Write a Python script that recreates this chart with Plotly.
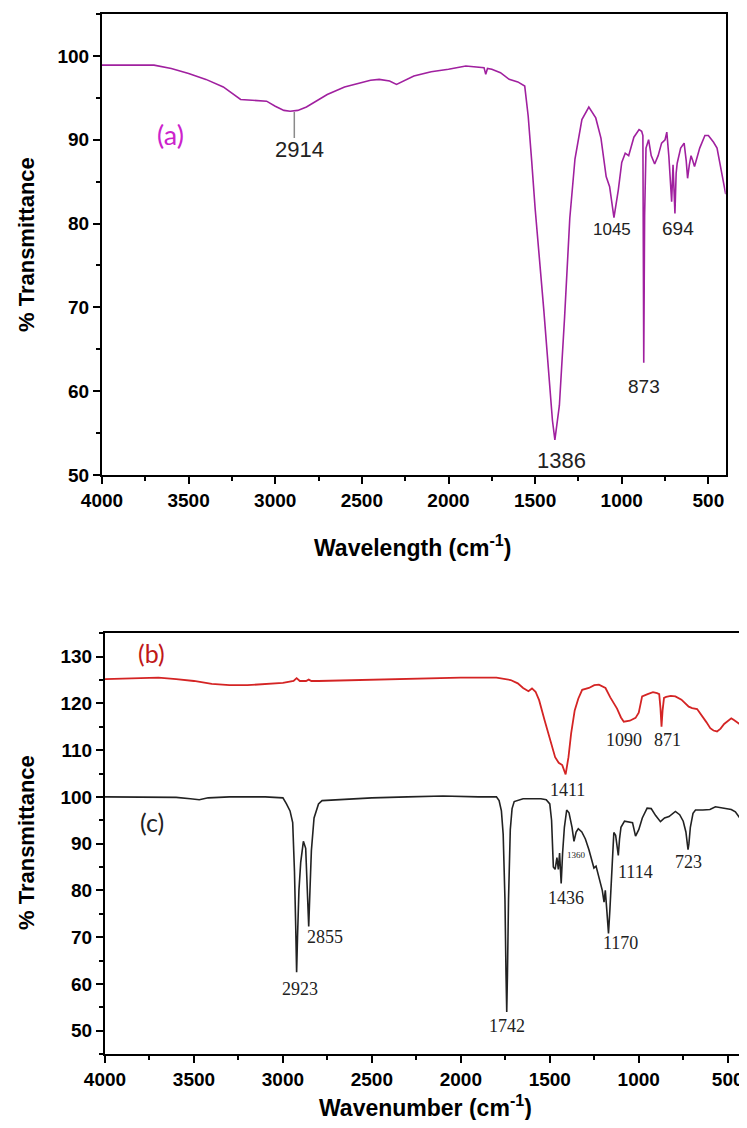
import plotly.graph_objects as go

# ---------------- data: spectrum (a) ----------------
wn_a = [4000, 3850, 3700, 3600, 3500, 3400, 3300, 3200, 3100, 3050, 3000, 2950, 2914, 2870, 2820,
        2780, 2700, 2600, 2500, 2450, 2400, 2340, 2300, 2260, 2200, 2100, 2000, 1900, 1820, 1795,
        1785, 1775, 1750, 1700, 1650, 1600, 1560, 1540, 1520, 1500, 1450, 1420, 1400, 1386, 1370,
        1360, 1330, 1300, 1270, 1230, 1190, 1150, 1120, 1100, 1090, 1070, 1045, 1020, 1000, 980,
        960, 930, 900, 885, 878, 873, 868, 860, 845, 830, 810, 790, 770, 750, 740, 728, 712, 704,
        693, 686, 680, 660, 640, 628, 620, 610, 600, 590, 580, 550, 520, 500, 470, 450, 430, 408, 400]
tr_a = [98.9, 98.9, 98.9, 98.5, 97.9, 97.2, 96.3, 94.8, 94.7, 94.6, 94.0, 93.5, 93.4, 93.5, 93.9,
        94.4, 95.4, 96.3, 96.8, 97.1, 97.2, 97.0, 96.6, 97.0, 97.6, 98.1, 98.4, 98.8, 98.7, 98.6,
        97.8, 98.5, 98.4, 98.0, 97.2, 96.9, 96.4, 92.8, 87.5, 81.8, 69.7, 61.5, 56.5, 54.2, 56.5,
        58.3, 68.8, 80.6, 87.7, 92.4, 93.9, 92.6, 90.2, 86.8, 85.6, 84.4, 80.7, 84.0, 87.3, 88.4,
        88.1, 90.3, 91.2, 91.0, 90.5, 63.4, 81.0, 89.0, 90.0, 88.1, 87.1, 88.1, 89.6, 90.0, 90.9,
        88.0, 82.6, 87.0, 81.2, 86.0, 87.2, 89.0, 89.6, 87.5, 85.4, 87.0, 88.1, 87.5, 86.8, 89.0,
        90.5, 90.5, 89.7, 89.0, 86.8, 84.0, 83.5]

# ---------------- data: spectrum (b) ----------------
wn_b = [4000, 3800, 3700, 3600, 3500, 3400, 3300, 3200, 3100, 3000, 2940, 2923, 2905, 2870, 2855,
        2840, 2800, 2600, 2400, 2200, 2000, 1800, 1720, 1680, 1650, 1620, 1600, 1580, 1560, 1530,
        1500, 1470, 1450, 1430, 1411, 1395, 1380, 1360, 1340, 1318, 1280, 1250, 1224, 1200, 1187,
        1160, 1140, 1122, 1100, 1084, 1050, 1018, 1000, 981, 950, 920, 897, 885, 878, 872, 866,
        858, 846, 820, 794, 760, 719, 700, 672, 640, 620, 598, 580, 560, 540, 520, 500, 480, 467,
        450, 430, 411, 400]
tr_b = [125.2, 125.4, 125.5, 125.2, 124.8, 124.2, 123.9, 123.9, 124.1, 124.4, 124.8, 125.4, 124.8,
        124.8, 125.1, 124.8, 124.8, 125.0, 125.2, 125.4, 125.5, 125.5, 125.0, 124.3, 123.3, 122.6,
        123.2, 122.5, 120.7, 116.5, 112.2, 108.5, 107.3, 106.8, 104.8, 108.5, 113.6, 118.5, 121.0,
        122.9, 123.3, 123.9, 124.0, 123.6, 123.3, 121.3, 120.0, 118.9, 117.0, 116.1, 116.3, 116.9,
        118.0, 121.5, 122.0, 122.4, 122.2, 122.0, 119.0, 115.0, 118.5, 121.2, 121.4, 121.6, 121.5,
        120.8, 119.3, 119.0, 118.8, 117.2, 116.0, 114.7, 114.2, 114.0, 114.6, 115.6, 116.3, 116.8,
        116.5, 116.0, 115.5, 114.7, 114.3]

# ---------------- data: spectrum (c) ----------------
wn_c = [4000, 3800, 3600, 3520, 3470, 3420, 3300, 3100, 3000, 2980, 2960, 2945, 2935, 2928, 2923,
        2918, 2910, 2900, 2885, 2872, 2862, 2855, 2848, 2840, 2825, 2800, 2780, 2700, 2500, 2300,
        2100, 1900, 1800, 1785, 1772, 1762, 1752, 1746, 1742, 1738, 1732, 1722, 1712, 1700, 1650,
        1550, 1520, 1500, 1490, 1480, 1470, 1460, 1452, 1445, 1436, 1428, 1418, 1405, 1392, 1375,
        1364, 1352, 1340, 1320, 1300, 1280, 1262, 1252, 1240, 1225, 1212, 1205, 1195, 1188, 1180,
        1170, 1162, 1155, 1148, 1140, 1130, 1120, 1115, 1108, 1100, 1080, 1055, 1035, 1018, 1000,
        980, 953, 930, 905, 878, 855, 830, 794, 770, 750, 735, 728, 723, 718, 710, 695, 681, 640,
        600, 569, 520, 480, 457, 440, 429, 420, 410, 400]
tr_c = [100.0, 100.0, 99.9, 99.6, 99.4, 99.8, 100.0, 100.0, 99.8, 98.5, 97.0, 94.5, 84.0, 72.0,
        62.5, 70.0, 80.0, 86.0, 90.5, 89.0, 80.0, 72.3, 80.0, 88.5, 95.5, 98.5, 99.2, 99.4, 99.8,
        100.0, 100.2, 100.0, 100.0, 99.2, 97.0, 92.0, 78.0, 62.0, 54.0, 62.0, 78.0, 93.0, 97.5,
        99.0, 99.6, 99.6, 99.4, 98.5, 95.0, 85.0, 84.5, 87.0, 84.5, 88.0, 81.5, 88.0, 93.5, 97.2,
        96.6, 93.5, 90.5, 92.5, 93.2, 92.5, 91.0, 88.7, 86.5, 84.8, 85.2, 83.0, 81.0, 80.0, 77.5,
        80.0, 76.0, 70.8, 76.0, 82.0, 88.0, 92.4, 91.8, 89.0, 87.5, 91.0, 93.5, 94.8, 94.7, 94.5,
        91.6, 93.0, 95.5, 97.6, 97.5, 96.0, 94.7, 95.5, 95.8, 96.9, 96.2, 94.8, 92.5, 90.0, 88.7,
        90.0, 93.5, 96.5, 97.2, 97.2, 97.3, 97.9, 97.6, 97.3, 96.8, 96.0, 95.3, 96.2, 96.4, 96.6]

# ---------------- peak labels ----------------
labels_a = ["2914", "1386", "1045", "873", "694"]
label_a_wn = [2858, 1350, 1055, 870, 678]
label_a_tr = [88.8, 51.7, 79.3, 60.6, 79.4]
label_a_size = [22, 22, 17, 19, 19]
marker_2914_wn = 2890
marker_2914_tr = [93.3, 90.2]

labels_bc = ["1411", "1090", "871", "2923", "2855", "1742", "1436", "1360", "1170", "1114", "723"]
label_bc_wn = [1402, 1084, 841, 2906, 2762, 1741, 1411, 1351, 1102, 1018, 719]
label_bc_tr = [101.5, 112.2, 112.2, 58.9, 70.1, 50.9, 78.3, 87.6, 68.7, 84.0, 86.1]
label_bc_size = [18, 18, 18, 18, 18, 18, 18, 9, 18, 18, 18]

# The page body has an 8px default margin; the figure is sized/shifted to compensate
# (height reduced so the page never scrolls).
OFF = 8
W, H = 747 - OFF, 1128 - 2 * OFF


def px(xp):
    return (xp - OFF) / W


def py(yp):
    return 1 - (yp - OFF) / H


top_dom_x = [px(102), px(725.7)]
top_dom_y = [py(475), py(14)]
bot_dom_x = [px(105), px(745.5)]
bot_dom_y = [py(1054), py(633.3)]

fig = go.Figure()
fig.add_trace(go.Scatter(x=wn_a, y=tr_a, mode="lines", line=dict(color="#A0209F", width=1.6),
                         xaxis="x", yaxis="y", showlegend=False))
fig.add_trace(go.Scatter(x=wn_b, y=tr_b, mode="lines", line=dict(color="#D42424", width=1.8),
                         xaxis="x2", yaxis="y2", showlegend=False))
fig.add_trace(go.Scatter(x=wn_c, y=tr_c, mode="lines", line=dict(color="#222222", width=1.6),
                         xaxis="x2", yaxis="y2", showlegend=False))
# 2914 marker line
fig.add_trace(go.Scatter(x=[marker_2914_wn, marker_2914_wn], y=marker_2914_tr, mode="lines",
                         line=dict(color="#8a8a8a", width=1.5), xaxis="x", yaxis="y",
                         showlegend=False))

tickfont = dict(family="Liberation Sans, Arial", size=19, color="black", weight="bold")
axis_common = dict(showline=True, linecolor="black", linewidth=2, mirror=True,
                   ticks="outside", ticklen=7, tickwidth=1.8, tickcolor="black",
                   showgrid=False, zeroline=False, tickfont=tickfont, automargin=False)
minor_x = dict(dtick=250, ticklen=4, ticks="outside", tickcolor="black", tickwidth=1.5)
minor_y = dict(dtick=5, ticklen=4, ticks="outside", tickcolor="black", tickwidth=1.5)

fig.update_layout(
    width=W, height=H, margin=dict(l=0, r=0, t=0, b=0, autoexpand=False),
    paper_bgcolor="white", plot_bgcolor="white",
    xaxis=dict(domain=top_dom_x, range=[4000, 400], anchor="y", tick0=0, dtick=500,
               minor=minor_x, **axis_common),
    yaxis=dict(domain=top_dom_y, range=[50, 105], anchor="x", tick0=0, dtick=10,
               minor=minor_y, **axis_common),
    xaxis2=dict(domain=bot_dom_x, range=[4000, 400], anchor="y2", tick0=0, dtick=500,
                minor=minor_x, **axis_common),
    yaxis2=dict(domain=bot_dom_y, range=[45, 135], anchor="x2", tick0=0, dtick=10,
                minor=minor_y, **axis_common),
)

ann = []
for t, xw, yt, s in zip(labels_a, label_a_wn, label_a_tr, label_a_size):
    ann.append(dict(x=xw, y=yt, xref="x", yref="y", text=t, showarrow=False,
                    xanchor="center", yanchor="middle",
                    font=dict(family="Liberation Sans, Arial", size=s, color="#222222")))
for t, xw, yt, s in zip(labels_bc, label_bc_wn, label_bc_tr, label_bc_size):
    ann.append(dict(x=xw, y=yt, xref="x2", yref="y2", text=t, showarrow=False,
                    xanchor="center", yanchor="middle",
                    font=dict(family="Liberation Serif, Times New Roman", size=s, color="#222222")))
ann.append(dict(x=3607, y=90.6, xref="x", yref="y", text="(a)", showarrow=False,
                xanchor="center", yanchor="middle",
                font=dict(family="Lato, Open Sans", size=27, color="#CC22CC")))
ann.append(dict(x=3736, y=130.8, xref="x2", yref="y2", text="(b)", showarrow=False,
                xanchor="center", yanchor="middle",
                font=dict(family="Lato, Open Sans", size=25, color="#C01818")))
ann.append(dict(x=3736, y=94.7, xref="x2", yref="y2", text="(c)", showarrow=False,
                xanchor="center", yanchor="middle",
                font=dict(family="Lato, Open Sans", size=25, color="#222222")))

title_font = dict(family="Liberation Sans, Arial", size=23, color="black", weight="bold")
ytitle_font = dict(family="Liberation Sans, Arial", size=22, color="black", weight="bold")
ann.append(dict(x=px(413), y=py(546), xref="paper", yref="paper", xanchor="center",
                yanchor="middle", text="Wavelength (cm<sup>-1</sup>)", showarrow=False,
                font=title_font))
ann.append(dict(x=px(425), y=py(1106), xref="paper", yref="paper", xanchor="center",
                yanchor="middle", text="Wavenumber (cm<sup>-1</sup>)", showarrow=False,
                font=title_font))
ann.append(dict(x=px(26), y=py(245), xref="paper", yref="paper", xanchor="center",
                yanchor="middle", text="% Transmittance", textangle=-90, showarrow=False,
                font=ytitle_font))
ann.append(dict(x=px(26), y=py(843), xref="paper", yref="paper", xanchor="center",
                yanchor="middle", text="% Transmittance", textangle=-90, showarrow=False,
                font=ytitle_font))
fig.update_layout(annotations=ann)

fig.write_html("out.html")
